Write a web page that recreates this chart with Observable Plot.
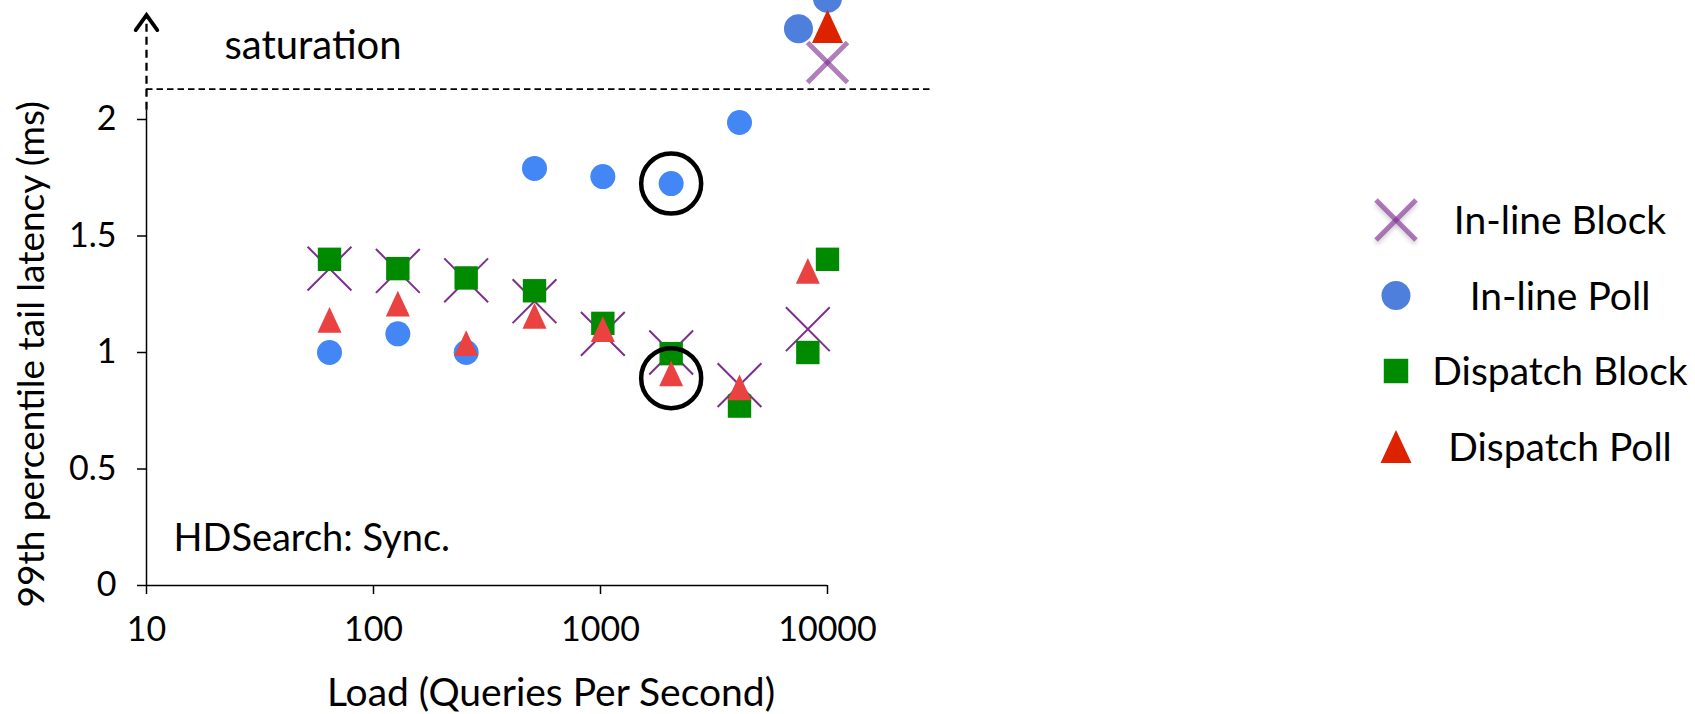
<!DOCTYPE html>
<html>
<head>
<meta charset="utf-8">
<script src="https://cdn.jsdelivr.net/npm/d3@7"></script>
<script src="https://cdn.jsdelivr.net/npm/@observablehq/plot@0.6"></script>
<style>
  html, body { margin: 0; padding: 0; background: #fff; }
  #wrap { position: relative; width: 1695px; height: 714px; overflow: hidden; }
  #legend { position: absolute; left: 1300px; top: 0; }
</style>
</head>
<body>
<div id="wrap"></div>
<script>
// ---------- data ----------
const xTicks = [10, 100, 1000, 10000];
const yTicks = [0, 0.5, 1, 1.5, 2];
const seriesNames = ["In-line Block", "In-line Poll", "Dispatch Block", "Dispatch Poll"];

const inlineBlockLoad    = [64, 128, 256, 512, 1024, 2048, 4096, 8192, 10000];
const inlineBlockLatency = [1.36, 1.35, 1.31, 1.22, 1.08, 1.00, 0.86, 1.10, 2.245];

const inlinePollLoad    = [64, 128, 256, 512, 1024, 2048, 4096, 7450, 10000];
const inlinePollLatency = [1.00, 1.08, 1.00, 1.79, 1.755, 1.725, 1.987, 2.39, 2.52];

const dispatchBlockLoad    = [64, 128, 256, 512, 1024, 2048, 4096, 8192, 10000];
const dispatchBlockLatency = [1.40, 1.36, 1.32, 1.265, 1.125, 0.995, 0.77, 1.00, 1.40];

const dispatchPollLoad    = [64, 128, 256, 512, 1024, 2048, 4096, 8192, 10000];
const dispatchPollLatency = [1.14, 1.21, 1.04, 1.157, 1.10, 0.91, 0.85, 1.35, 2.40];

const saturation = 2.13;          // dashed saturation threshold (ms)
const saturationLineEnd = 28400;  // load where the dashed line stops
const axisSolidTop = 2.04;        // y-axis solid part ends here
const axisArrowTop = 2.448;       // arrow tip of y-axis
const highlightLoad    = [2048, 2048];
const highlightLatency = [1.725, 0.89];

const xTitle = "Load (Queries Per Second)";
const yTitle = "99th percentile tail latency (ms)";
const saturationLabel = "saturation";
const panelLabel = "HDSearch: Sync.";

// ---------- helpers ----------
const rows = (loads, vals) => loads.map((x, i) => ({x, y: vals[i], sat: vals[i] > saturation}));
const ib = rows(inlineBlockLoad, inlineBlockLatency);
const ip = rows(inlinePollLoad, inlinePollLatency);
const db = rows(dispatchBlockLoad, dispatchBlockLatency);
const dp = rows(dispatchPollLoad, dispatchPollLatency);
const hl = highlightLoad.map((x, i) => ({x, y: highlightLatency[i]}));

const triangle = {draw(ctx, size) { const r = Math.sqrt(size / Math.PI); const h = 1.07 * r;
  ctx.moveTo(0, -h); ctx.lineTo(r, h); ctx.lineTo(-r, h); ctx.closePath(); }};
const slash = {draw(ctx, size) { const r = Math.sqrt(size / Math.PI); ctx.moveTo(-r, r); ctx.lineTo(r, -r); }};
const backslash = {draw(ctx, size) { const r = Math.sqrt(size / Math.PI); ctx.moveTo(-r, -r); ctx.lineTo(r, r); }};
const chevron = {draw(ctx, size) { const r = Math.sqrt(size / Math.PI);
  ctx.moveTo(-0.72 * r, r); ctx.lineTo(0, 0); ctx.lineTo(0.72 * r, r); }};

const C = {
  xThin: "#7d2f8e", xThick: "#7a2a8c",
  blue: "#4287f5", blueSat: "#4e7fdc",
  green: "#008a00",
  red: "#ea4141", redSat: "#dd2200"
};
const FONT = "Lato, 'Open Sans', sans-serif";

const normal = d => !d.sat;
const sat = d => d.sat;

const chart = Plot.plot({
  width: 1695,
  height: 714,
  marginLeft: 146,
  marginRight: 868,
  marginTop: 2.5,
  marginBottom: 129,
  x: {type: "log", domain: [10, 10000]},
  y: {domain: [0, 2.5]},
  style: {fontFamily: FONT, color: "#000", background: "#fff"},
  marks: [
    Plot.axisX({ticks: xTicks, tickFormat: d => String(d), tickSize: 9, tickPadding: 22, fontSize: 34, label: null, strokeWidth: 1.5}),
    Plot.axisY({ticks: yTicks, tickFormat: d => String(d), tickSize: 9, tickPadding: 21, fontSize: 34, label: null, strokeWidth: 1.5}),
    Plot.ruleY([0], {stroke: "#000", strokeWidth: 1.5}),
    Plot.ruleX([10], {y1: 0, y2: axisSolidTop, stroke: "#000", strokeWidth: 1.5}),
    Plot.ruleX([10], {y1: axisSolidTop, y2: axisArrowTop - 0.004, stroke: "#000", strokeWidth: 2.3, strokeDasharray: "8,5"}),
    Plot.dot([0], {x: 10, y: axisArrowTop, symbol: chevron, r: 15, stroke: "#000", strokeWidth: 3.8, fill: "none", strokeLinecap: "round", strokeLinejoin: "miter"}),
    Plot.ruleY([saturation], {x1: 10, x2: saturationLineEnd, stroke: "#000", strokeWidth: 1.7, strokeDasharray: "6.5,4"}),

    // In-line Block (X)
    Plot.dot(ib.filter(normal), {x: "x", y: "y", symbol: "times", r: 20, stroke: C.xThin, strokeWidth: 2, fill: "none", ariaLabel: "marker-ib"}),
    Plot.dot(ib.filter(sat), {x: "x", y: "y", symbol: slash, r: 20, stroke: C.xThick, strokeOpacity: 0.6, strokeWidth: 5, fill: "none", ariaLabel: "marker-ib-sat1"}),
    Plot.dot(ib.filter(sat), {x: "x", y: "y", symbol: backslash, r: 20, stroke: C.xThick, strokeOpacity: 0.6, strokeWidth: 5, fill: "none", ariaLabel: "marker-ib-sat2"}),
    // In-line Poll (circle)
    Plot.dot(ip.filter(normal), {x: "x", y: "y", symbol: "circle", r: 12.5, fill: C.blue, stroke: "none", ariaLabel: "marker-ip"}),
    Plot.dot(ip.filter(sat), {x: "x", y: "y", symbol: "circle", r: 14.5, fill: C.blueSat, stroke: "none", ariaLabel: "nomark-ip-sat"}),
    // Dispatch Block (square)
    Plot.dot(db, {x: "x", y: "y", symbol: "square", r: 13.2, fill: C.green, stroke: "none", ariaLabel: "marker-db"}),
    // Dispatch Poll (triangle)
    Plot.dot(dp.filter(normal), {x: "x", y: "y", symbol: triangle, r: 12, fill: C.red, stroke: "none", ariaLabel: "marker-dp"}),
    Plot.dot(dp.filter(sat), {x: "x", y: "y", symbol: triangle, r: 15.5, fill: C.redSat, stroke: "none", ariaLabel: "nomark-dp-sat"}),

    // highlight circles
    Plot.dot(hl, {x: "x", y: "y", r: 30, stroke: "#000", strokeWidth: 4.5, fill: "none"}),

    // labels
    Plot.text([saturationLabel], {text: d => d, frameAnchor: "top-left", dx: 78, dy: 43, textAnchor: "start", lineAnchor: "middle", fontSize: 40}),
    Plot.text([panelLabel], {text: d => d, frameAnchor: "bottom-left", dx: 27, dy: -47, textAnchor: "start", lineAnchor: "middle", fontSize: 38}),
    Plot.text([xTitle], {text: d => d, frameAnchor: "bottom", dx: 64, dy: 108, textAnchor: "middle", lineAnchor: "middle", fontSize: 39}),
    Plot.text([yTitle], {text: d => d, frameAnchor: "left", rotate: -90, dx: -114, dy: 60, textAnchor: "middle", lineAnchor: "middle", fontSize: 37})
  ]
});

// drop shadow filter
const svgSel = d3.select(chart);
const defs = svgSel.insert("defs", ":first-child");
defs.append("filter").attr("id", "shadow").attr("x", "-50%").attr("y", "-50%").attr("width", "200%").attr("height", "200%")
  .append("feDropShadow").attr("dx", 0).attr("dy", 3).attr("stdDeviation", 2)
  .attr("flood-color", "#000").attr("flood-opacity", 0.3);
svgSel.selectAll("g[aria-label^='marker']").attr("filter", "url(#shadow)");

document.getElementById("wrap").appendChild(chart);

// ---------- legend ----------
const legendSymbols = [
  {name: seriesNames[0], kind: "x"},
  {name: seriesNames[1], kind: "circle", fill: C.blueSat, r: 14.5},
  {name: seriesNames[2], kind: "square", fill: C.green, r: 13.8},
  {name: seriesNames[3], kind: "triangle", fill: C.redSat, r: 15.5}
];
const lg = d3.create("svg").attr("id", "legend").attr("width", 395).attr("height", 714);
const ldefs = lg.append("defs");
ldefs.append("filter").attr("id", "lshadow").attr("x", "-50%").attr("y", "-50%").attr("width", "200%").attr("height", "200%")
  .append("feDropShadow").attr("dx", 0).attr("dy", 3).attr("stdDeviation", 2)
  .attr("flood-color", "#000").attr("flood-opacity", 0.3);
const rowY = i => 220 + i * 75.5;
legendSymbols.forEach((s, i) => {
  const g = lg.append("g").attr("transform", `translate(96,${rowY(i)})`);
  if (s.kind === "x") {
    const gx = g.append("g").attr("filter", "url(#lshadow)");
    for (const sym of [slash, backslash]) {
      gx.append("path").attr("d", d3.symbol(sym, Math.PI * 20 * 20)())
        .attr("fill", "none").attr("stroke", C.xThick).attr("stroke-opacity", 0.6).attr("stroke-width", 5);
    }
  } else {
    const sym = s.kind === "circle" ? d3.symbolCircle : s.kind === "square" ? d3.symbolSquare : triangle;
    g.append("path").attr("d", d3.symbol(sym, Math.PI * s.r * s.r)()).attr("fill", s.fill);
  }
  lg.append("text").attr("x", 260).attr("y", rowY(i)).attr("dy", "0.36em")
    .attr("text-anchor", "middle").attr("font-family", FONT).attr("font-size", 39).attr("fill", "#000")
    .text(s.name);
});
document.getElementById("wrap").appendChild(lg.node());
</script>
</body>
</html>
